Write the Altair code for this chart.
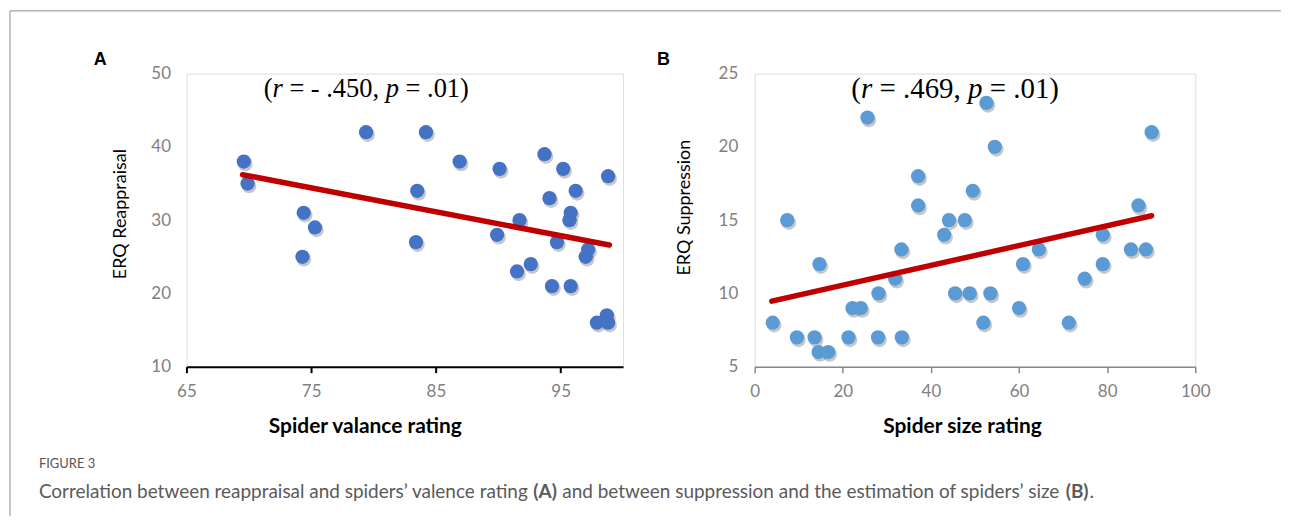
import altair as alt
import pandas as pd

# ---------------- data ----------------
A_valence = [69.6, 69.9, 79.4, 84.2, 86.9, 90.1, 93.7, 95.2, 98.8, 83.5, 94.1, 96.2, 74.4, 75.3, 91.7,
             95.8, 95.7, 89.9, 83.4, 94.7, 97.2, 97.0, 74.3, 92.6, 91.5, 94.3, 95.8, 98.7, 97.9, 98.8]
A_reappraisal = [38, 35, 42, 42, 38, 37, 39, 37, 36, 34, 33, 34, 31, 29, 30,
                 31, 30, 28, 27, 27, 26, 25, 25, 24, 23, 21, 21, 17, 16, 16]
A_fit_x = [69.5, 98.9]
A_fit_y = [36.2, 26.6]

B_size = [4.1, 7.4, 9.6, 13.6, 14.7, 14.5, 16.7, 21.3, 22.2, 24.1, 25.6, 28.1, 28.0, 31.9, 33.3,
          33.4, 37.1, 37.1, 43.0, 44.1, 47.7, 45.5, 48.8, 49.5, 51.9, 52.6, 53.5, 54.5, 60.0, 60.9,
          64.5, 71.3, 74.9, 79.0, 79.0, 85.4, 88.8, 87.1, 90.1]
B_suppression = [8, 15, 7, 7, 12, 6, 6, 7, 9, 9, 22, 10, 7, 11, 13,
                 7, 18, 16, 14, 15, 15, 10, 10, 17, 8, 23, 10, 20, 9, 12,
                 13, 8, 11, 14, 12, 13, 13, 16, 21]
B_fit_x = [3.9, 90.1]
B_fit_y = [9.47, 15.3]

A_xticks = [65, 75, 85, 95]
A_yticks = [10, 20, 30, 40, 50]
B_xticks = [0, 20, 40, 60, 80, 100]
B_yticks = [5, 10, 15, 20, 25]

caption_label = "FIGURE 3"
caption_parts = ["Correlation between reappraisal and spiders\u2019 valence rating", "(A)",
                 "and between suppression and the estimation of spiders\u2019 size", "(B)", "."]

W_A, W_B, H = 438, 442, 294
GRAY_LBL = "#808080"
one = pd.DataFrame({"k": [0]})


def txt(text, x, y, size, font="Lato", weight="normal", style="normal", color="#000", align="left"):
    return alt.Chart(one).mark_text(text=text, font=font, fontSize=size, fontWeight=weight,
                                    fontStyle=style, color=color, align=align,
                                    baseline="alphabetic").encode(x=alt.value(x), y=alt.value(y))


def serif_parts(parts, x0, y, size):
    # advance widths in Times units (per 1000 em)
    w = {"(": 333, ")": 333, "r": 389, " ": 250, "=": 564, "-": 333, ".": 250, ",": 250, "p": 500}
    layers = []
    x = x0
    for s, it in parts:
        lead = len(s) - len(s.lstrip(" "))
        x += lead * w[" "] * size / 1000.0
        core = s.strip(" ")
        layers.append(txt(core, x, y, size, font="Liberation Serif",
                          style="italic" if it else "normal"))
        x += sum(w.get(c, 500) for c in s.lstrip(" ")) * size / 1000.0
    return layers


def panel(xs, ys, fx, fy, color, xdom, ydom, xticks, yticks, xtitle, ytitle,
          dom_color, dom_w, xt_x, yt_x, yt_y, lbl_pad_y):
    df = pd.DataFrame({"x": xs, "y": ys})
    fit = pd.DataFrame({"x": fx, "y": fy})
    xscale = alt.Scale(domain=xdom, nice=False, zero=False)
    yscale = alt.Scale(domain=ydom, nice=False, zero=False)
    xaxis = alt.Axis(values=xticks, grid=False, domainColor=dom_color, domainWidth=dom_w,
                     tickColor=dom_color, tickWidth=dom_w, tickSize=6, labelFlush=False,
                     labelColor=GRAY_LBL, labelFont="Lato", labelFontSize=17, labelPadding=11,
                     title=xtitle, titleFont="Lato", titleFontSize=21, titleFontWeight="bold",
                     titleColor="#000", titleX=xt_x, titleY=66, titleAlign="center",
                     titleBaseline="alphabetic")
    yaxis = alt.Axis(values=yticks, grid=False, domain=False, ticks=False, tickSize=0,
                     labelColor=GRAY_LBL, labelFont="Lato", labelFontSize=17,
                     labelPadding=lbl_pad_y, title=ytitle, titleFont="Lato", titleFontSize=18,
                     titleFontWeight="normal", titleColor="#000", titleAngle=-90,
                     titleX=yt_x, titleY=yt_y, titleAlign="center", titleBaseline="middle")
    shadow = alt.Chart(df).mark_circle(size=215, color="#000", opacity=0.22).encode(
        x=alt.X("x:Q", scale=xscale, axis=xaxis), y=alt.Y("y:Q", scale=yscale, axis=yaxis),
        xOffset=alt.value(1.5), yOffset=alt.value(2.5))
    pts = alt.Chart(df).mark_circle(size=205, color=color, opacity=1).encode(
        x=alt.X("x:Q", scale=xscale, axis=xaxis), y=alt.Y("y:Q", scale=yscale, axis=yaxis))
    line = alt.Chart(fit).mark_line(color="#C00000", strokeWidth=5.5, strokeCap="round").encode(
        x=alt.X("x:Q", scale=xscale, axis=xaxis), y=alt.Y("y:Q", scale=yscale, axis=yaxis))
    return [shadow, pts, line]


A_layers = panel(A_valence, A_reappraisal, A_fit_x, A_fit_y, "#4472C4", [65, 100], [10, 50],
                 A_xticks, A_yticks, "Spider valance rating", "ERQ Reappraisal",
                 "#000000", 2, 179, -66.5, 140.5, 16)
A_layers += serif_parts([("(", False), ("r", True), (" = - .450, ", False), ("p", True),
                         (" = .01)", False)], 77.5, 23.6, 26.5)
A_layers.append(txt("A", -93, -9, 18, font="Liberation Sans", weight="bold"))
# figure frame lines
A_layers.append(alt.Chart(one).mark_rule(color="#b4b4b4", strokeWidth=1.5).encode(
    x=alt.value(-177), y=alt.value(-63), y2=alt.value(444)))
A_layers.append(alt.Chart(one).mark_rule(color="#b4b4b4", strokeWidth=1.5).encode(
    x=alt.value(-177), x2=alt.value(1098), y=alt.value(-63)))
# caption
cx = -148
A_layers.append(txt(caption_label, cx, 396, 13, color="#555555"))
cap_x = [cx, cx + 496, cx + 525, cx + 1030, cx + 1054]
for s, xx in zip(caption_parts, cap_x):
    A_layers.append(txt(s, xx, 426, 19, color="#5a5a5a",
                        weight="bold" if s in ("(A)", "(B)") else "normal"))

chartA = alt.layer(*A_layers).properties(width=W_A, height=H)

B_layers = panel(B_size, B_suppression, B_fit_x, B_fit_y, "#5B9BD5", [0, 100], [5, 25],
                 B_xticks, B_yticks, "Spider size rating", "ERQ Suppression",
                 "#8a8a8a", 1.5, 208, -70, 134, 17)
B_layers += serif_parts([("(", False), ("r", True), (" = .469, ", False), ("p", True),
                         (" = .01)", False)], 97, 24.3, 29)
B_layers.append(txt("B", -98, -9, 18, font="Liberation Sans", weight="bold"))
chartB = alt.layer(*B_layers).properties(width=W_B, height=H)

chart = alt.hconcat(chartA, chartB, spacing=132, bounds="flush").properties(
    padding={"left": 0, "top": 0, "right": 0, "bottom": 0}
).configure_view(stroke=None).configure(background="white")

chart.save("out.html", embed_options={"renderer": "svg", "actions": False})
